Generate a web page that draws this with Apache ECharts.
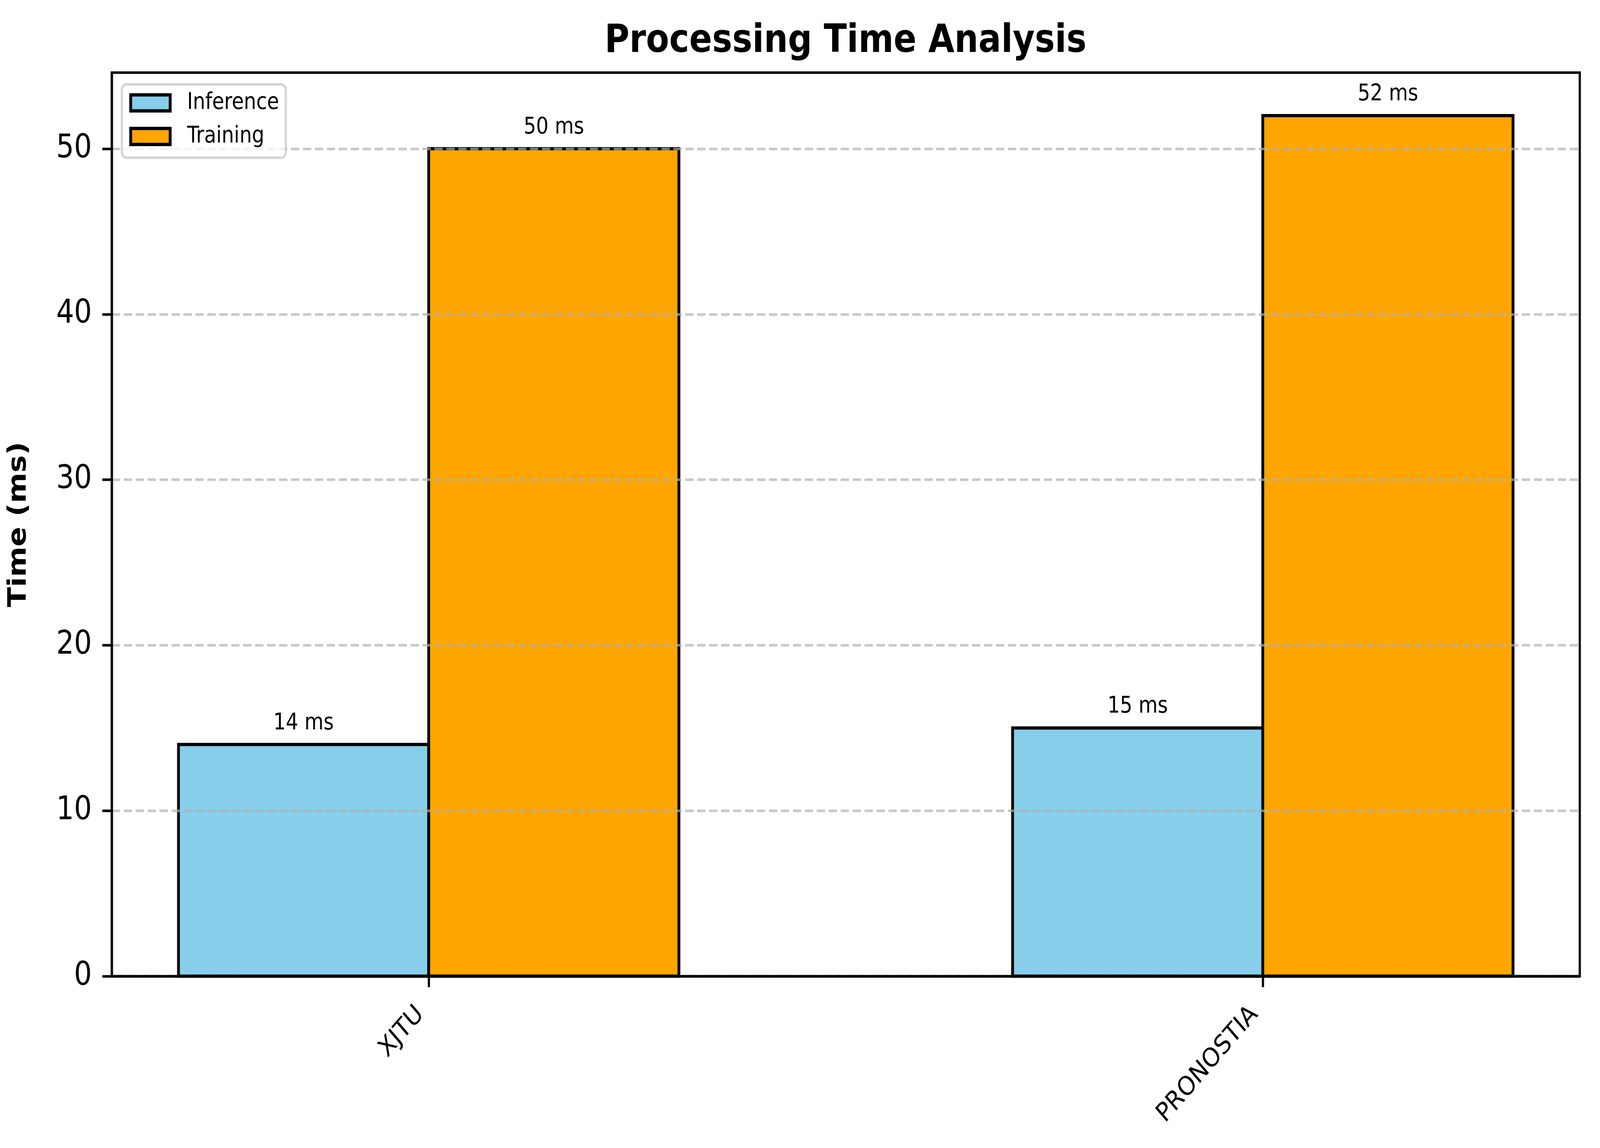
<!DOCTYPE html>
<html>
<head>
<meta charset="utf-8">
<script src="https://cdn.jsdelivr.net/npm/echarts@6/dist/echarts.min.js"></script>
<style>
html, body { margin: 0; padding: 0; background: #fff; overflow: hidden; }
#chart { width: 4740px; height: 2940px; transform-origin: 0 0; }
</style>
</head>
<body>
<div id="chart"></div>
<script>
// ---- data ----
const categories = ['XJTU', 'PRONOSTIA'];
const inferenceMs = [14, 15];
const trainingMs = [50, 52];
const yTickValues = [0, 10, 20, 30, 40, 50];
const seriesNames = ['Inference', 'Training'];
const seriesColors = ['#87CEEB', '#FFA500'];

const BAR_W = 0.3;
const FONT = 'DejaVu Sans';
const DESIGN_W = 4740, DESIGN_H = 2940;

// fit the 4740x2940 design into whatever viewport the browser really has
const el = document.getElementById('chart');
const sx = (window.innerWidth || DESIGN_W) / DESIGN_W;
const sy = (window.innerHeight || DESIGN_H) / DESIGN_H;
if (Math.abs(sx - 1) > 1e-3 || Math.abs(sy - 1) > 1e-3) {
  el.style.transform = 'scale(' + sx + ',' + sy + ')';
}

const chart = echarts.init(el, null, { renderer: 'canvas', width: DESIGN_W, height: DESIGN_H });

function makeRender(offset) {
  return function (params, api) {
    const xi = api.value(0);
    const v = api.value(1);
    const w = api.size([BAR_W, 0])[0];
    const p0 = api.coord([xi + offset, 0]);
    const p1 = api.coord([xi + offset, v]);
    return {
      type: 'group',
      children: [
        {
          type: 'rect',
          shape: { x: p0[0] - w / 2, y: p1[1], width: w, height: p0[1] - p1[1] },
          style: { fill: api.visual('color'), stroke: '#000', lineWidth: 8.3 }
        },
        {
          type: 'text',
          x: p1[0],
          y: p1[1] - 25,
          style: {
            text: v + ' ms', fill: '#000', fontSize: 58, fontFamily: FONT,
            align: 'center', verticalAlign: 'bottom', lineHeight: 58
          }
        }
      ]
    };
  };
}

const option = {
  backgroundColor: '#fff',
  animation: false,
  textStyle: { fontFamily: FONT },
  title: {
    text: 'Processing Time Analysis',
    left: 2505,
    top: 57,
    textAlign: 'center',
    padding: 0,
    textStyle: { fontSize: 100, fontWeight: 'bold', color: '#000', fontFamily: FONT, lineHeight: 100 }
  },
  legend: {
    orient: 'vertical',
    left: 361,
    top: 216,
    padding: [18.5, 20, 25.5, 22],
    itemWidth: 117,
    itemHeight: 41,
    itemGap: 28,
    icon: 'rect',
    backgroundColor: 'rgba(255,255,255,0.8)',
    borderColor: 'rgba(204,204,204,0.8)',
    borderWidth: 6.7,
    borderRadius: 15,
    textStyle: { fontSize: 58, lineHeight: 58, color: '#000', fontFamily: FONT, padding: [0, 0, 0, 45] },
    data: seriesNames.map((n, i) => ({
      name: n,
      itemStyle: { color: seriesColors[i], borderColor: '#000', borderWidth: 8.3 }
    }))
  },
  grid: {
    left: 331, right: 60, top: 186, bottom: 440,
    show: true, borderColor: '#000', borderWidth: 6.5, backgroundColor: 'transparent'
  },
  xAxis: {
    type: 'value',
    min: -0.38,
    max: 1.38,
    z: 4,
    axisLine: { show: true, onZero: false, lineStyle: { color: '#000', width: 6.5 } },
    axisTick: { show: true, customValues: [0, 1], length: 28, inside: false, lineStyle: { color: '#000', width: 6.5 } },
    axisLabel: {
      customValues: [0, 1],
      formatter: v => categories[Math.round(v)] || '',
      rotate: 45,
      fontSize: 67,
      color: '#000',
      fontFamily: FONT,
      margin: 63,
      padding: [0, 35, 0, 0]
    },
    splitLine: { show: false }
  },
  yAxis: {
    type: 'value',
    min: 0,
    max: 54.6,
    interval: 10,
    z: 3,
    name: 'Time (ms)',
    nameLocation: 'middle',
    nameGap: 237,
    nameRotate: 90,
    nameTextStyle: { fontSize: 75, fontWeight: 'bold', color: '#000', fontFamily: FONT },
    axisLine: { show: true, onZero: false, lineStyle: { color: '#000', width: 6.5 } },
    axisTick: { show: true, customValues: yTickValues, length: 28, inside: false, lineStyle: { color: '#000', width: 6.5 } },
    axisLabel: {
      customValues: yTickValues,
      fontSize: 83, color: '#000', fontFamily: FONT, margin: 59
    },
    splitLine: {
      show: true,
      lineStyle: { color: 'rgba(176,176,176,0.7)', width: 6.7, type: [24.7, 10.7] }
    }
  },
  series: [
    {
      name: seriesNames[0],
      type: 'custom',
      itemStyle: { color: seriesColors[0] },
      renderItem: makeRender(-BAR_W / 2),
      data: categories.map((c, i) => [i, inferenceMs[i]]),
      z: 2
    },
    {
      name: seriesNames[1],
      type: 'custom',
      itemStyle: { color: seriesColors[1] },
      renderItem: makeRender(BAR_W / 2),
      data: categories.map((c, i) => [i, trainingMs[i]]),
      z: 2
    }
  ]
};

chart.setOption(option);
</script>
</body>
</html>
